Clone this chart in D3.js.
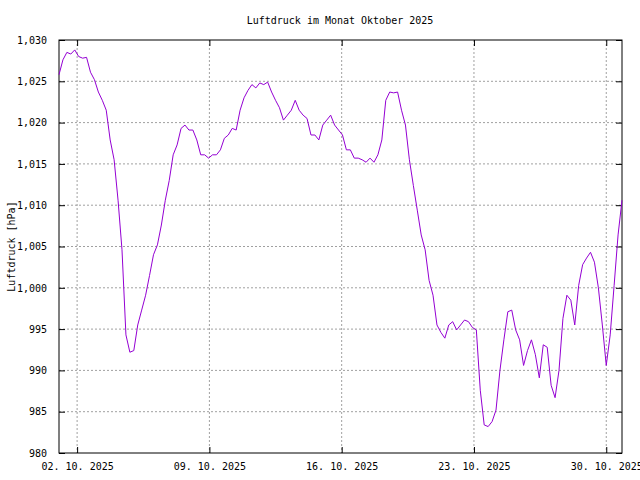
<!DOCTYPE html>
<html><head><meta charset="utf-8">
<script src="https://cdn.jsdelivr.net/npm/d3@7"></script>
<style>body{margin:0;background:#fff}text{font-family:"DejaVu Sans Mono",monospace;font-size:10px}</style>
</head><body>
<svg id="chart" width="640" height="480"></svg>
<script>
// Luftdruck, Messwerte im 5-Stunden-Raster ab 01.10.2025 01:00
var startTime = new Date(2025, 9, 1, 1, 0);
var stepHours = 5;
var pressure = [1025.8,1027.6,1028.5,1028.3,1028.8,1028.0,1027.8,1027.9,1026.1,1025.2,1023.7,1022.7,1021.5,1017.9,1015.5,1010.6,1004.6,994.3,992.2,992.4,995.5,997.3,999.1,1001.5,1004.0,1005.2,1007.6,1010.6,1013.0,1016.1,1017.3,1019.3,1019.7,1019.1,1019.1,1017.9,1016.1,1016.1,1015.7,1016.1,1016.1,1016.7,1018.1,1018.5,1019.3,1019.1,1021.5,1023.0,1023.9,1024.6,1024.2,1024.8,1024.6,1024.9,1023.7,1022.7,1021.8,1020.3,1020.9,1021.5,1022.7,1021.5,1020.9,1020.5,1018.5,1018.5,1017.9,1019.7,1020.3,1020.9,1019.7,1019.1,1018.5,1016.7,1016.7,1015.7,1015.7,1015.5,1015.2,1015.7,1015.2,1016.1,1017.9,1022.7,1023.7,1023.6,1023.7,1021.5,1019.7,1015.5,1012.4,1009.4,1006.4,1004.6,1000.9,999.1,995.5,994.6,993.9,995.5,995.9,994.9,995.5,996.1,995.9,995.2,994.9,987.6,983.4,983.2,983.8,985.2,990.0,993.7,997.1,997.3,994.9,993.7,990.6,992.4,993.7,991.9,989.1,993.1,992.8,988.2,986.7,990.0,996.3,999.1,998.5,995.5,1000.3,1002.8,1003.6,1004.3,1003.1,1000.0,995.5,990.6,994.3,1000.3,1006.4,1010.6];
var yTicks = d3.range(980, 1031, 5);
var xTickDates = [new Date(2025,9,2), new Date(2025,9,9), new Date(2025,9,16), new Date(2025,9,23), new Date(2025,9,30)];

(function(){
	var data = pressure.map(function(v, i){
		return {t: new Date(startTime.getTime() + i*stepHours*3600000), v: v};
	});

	var svg = d3.select("#chart");
	var pL = 59, pR = 622, pT = 40, pB = 453;
	var x = d3.scaleTime().domain([data[0].t, data[data.length-1].t]).range([pL, pR]);
	var y = d3.scaleLinear().domain([980, 1030]).range([pB, pT]);
	var fmt = d3.timeFormat("%d. %m. %Y");

	// Gitter
	svg.append("g").selectAll("line").data(yTicks.slice(1, -1)).join("line")
		.attr("x1", pL).attr("x2", pR).attr("y1", d => y(d)).attr("y2", d => y(d))
		.attr("stroke", "#a0a0a0").attr("stroke-dasharray", "2,2");
	svg.append("g").selectAll("line").data(xTickDates).join("line")
		.attr("x1", d => x(d)).attr("x2", d => x(d)).attr("y1", pT).attr("y2", pB)
		.attr("stroke", "#a0a0a0").attr("stroke-dasharray", "2,2");

	// Achsen (Ticks nach innen)
	svg.append("g").attr("transform", "translate(" + pL + ",0)")
		.call(d3.axisLeft(y).tickValues(yTicks).tickSize(-6).tickPadding(12));
	svg.append("g").attr("transform", "translate(" + pR + ",0)")
		.call(d3.axisRight(y).tickValues(yTicks).tickSize(-6).tickFormat(""));
	svg.append("g").attr("transform", "translate(0," + pB + ")")
		.call(d3.axisBottom(x).tickValues(xTickDates).tickSize(-6).tickPadding(10).tickFormat(fmt));
	svg.append("g").attr("transform", "translate(0," + pT + ")")
		.call(d3.axisTop(x).tickValues(xTickDates).tickSize(-6).tickFormat(""));
	svg.selectAll(".domain").remove();
	svg.selectAll(".tick line").attr("stroke", "#000");
	svg.selectAll(".tick text").attr("fill", "#000")
		.style("font-family", "'DejaVu Sans Mono',monospace").style("font-size", "10px");

	svg.append("rect").attr("x", pL).attr("y", pT).attr("width", pR-pL).attr("height", pB-pT)
		.attr("fill", "none").attr("stroke", "#000");

	svg.append("path").datum(data)
		.attr("d", d3.line().x(d => x(d.t)).y(d => y(d.v)))
		.attr("fill", "none").attr("stroke", "#9400d3").attr("stroke-width", 1);

	svg.append("text").attr("x", 340).attr("y", 24).attr("text-anchor", "middle")
		.text("Luftdruck im Monat Oktober 2025");
	svg.append("text").attr("transform", "translate(15," + ((pT+pB)/2) + ") rotate(-90)")
		.attr("text-anchor", "middle").text("Luftdruck [hPa]");
})();
</script>
</body></html>
